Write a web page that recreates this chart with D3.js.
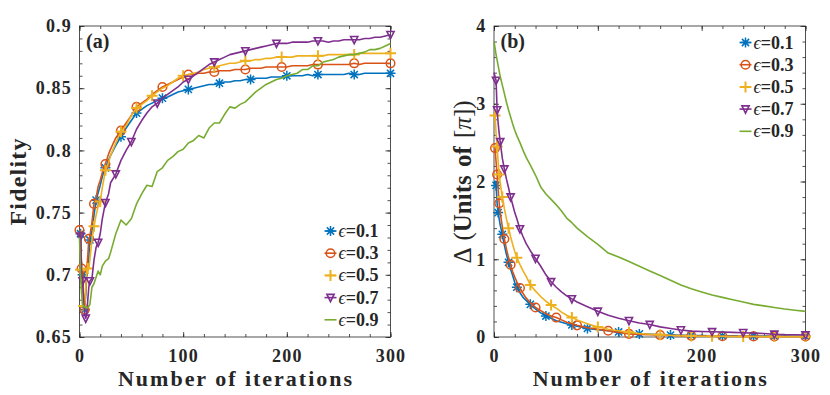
<!DOCTYPE html>
<meta charset="utf-8">
<style>
body { margin: 0; background: #fff; }
svg text { font-family: "Liberation Serif", "Times New Roman", serif; font-weight: bold; fill: #262626; }
</style>
<body></body>
<script src="https://d3js.org/d3.v7.min.js"></script>
<script>
// legend / series meta
const epsilons = ['0.1', '0.3', '0.5', '0.7', '0.9']
const colors = ['#0072BD', '#D95319', '#EDB120', '#7E2F8E', '#77AC30']
const markerTypes = ['star', 'circle', 'plus', 'tri', 'none']

// (a) fidelity vs iteration
const fidIters = [0,1,2,3,4,5,6,7,8,9,10, 12,14,16,18,20,22,25,28,30,
    35,40,45,50,55,60,65,70,75,80,85,90,95,100,
    105,110,115,120,125,130,135,140,145,150,155,160,165,170,
    175,180,185,190,195,200,205,210,215,220,225,230,235,240,
    245,250,255,260,265,270,275,280,285,290,295,300]
const fid01 = [0.735,0.733,0.703,0.700,0.675,0.672,0.685,0.700,0.705,0.715,0.728,
    0.735,0.748,0.760,0.766,0.772,0.779,0.786,0.792,0.796,
    0.804,0.811,0.818,0.824,0.830,0.833,0.836,0.838,0.840,0.842,0.843,0.845,0.847,0.848,
    0.849,0.850,0.851,0.852,0.853,0.853,0.854,0.855,0.855,0.856,0.856,0.857,0.857,0.858,
    0.858,0.858,0.859,0.859,0.859,0.860,0.860,0.860,0.860,0.861,0.860,0.861,0.861,0.861,
    0.861,0.861,0.861,0.862,0.861,0.861,0.862,0.862,0.862,0.862,0.862,0.862]
const fid03 = [0.736,0.735,0.705,0.703,0.674,0.672,0.688,0.705,0.715,0.729,0.731,
    0.742,0.757,0.762,0.771,0.776,0.782,0.789,0.797,0.801,
    0.810,0.816,0.822,0.828,0.835,0.838,0.841,0.845,0.848,0.851,0.853,0.855,0.857,0.859,
    0.861,0.861,0.862,0.862,0.863,0.863,0.864,0.864,0.864,0.865,0.865,0.865,0.866,0.866,
    0.866,0.867,0.867,0.867,0.867,0.867,0.868,0.868,0.868,0.868,0.869,0.869,0.869,0.869,
    0.869,0.869,0.869,0.869,0.870,0.869,0.870,0.870,0.870,0.870,0.870,0.870]
const fid05 = [0.705,0.704,0.690,0.676,0.675,0.675,0.690,0.703,0.705,0.705,0.712,
    0.728,0.739,0.748,0.755,0.759,0.770,0.784,0.790,0.796,
    0.806,0.815,0.820,0.828,0.834,0.837,0.840,0.844,0.847,0.850,0.852,0.855,0.858,0.860,
    0.861,0.862,0.863,0.865,0.866,0.867,0.868,0.869,0.870,0.870,0.871,0.872,0.872,0.873,
    0.873,0.874,0.874,0.875,0.875,0.875,0.875,0.876,0.876,0.876,0.876,0.876,0.876,0.877,
    0.877,0.877,0.877,0.877,0.877,0.878,0.878,0.878,0.878,0.878,0.878,0.878]
const fid07 = [0.733,0.731,0.700,0.695,0.680,0.668,0.665,0.668,0.680,0.690,0.695,
    0.697,0.712,0.722,0.726,0.733,0.745,0.758,0.765,0.774,
    0.781,0.792,0.800,0.807,0.817,0.824,0.830,0.835,0.838,0.842,0.845,0.848,0.851,0.855,
    0.857,0.860,0.863,0.866,0.869,0.871,0.873,0.875,0.877,0.878,0.879,0.880,0.881,0.882,
    0.883,0.884,0.885,0.886,0.886,0.886,0.887,0.887,0.887,0.887,0.888,0.888,0.888,0.887,
    0.888,0.888,0.889,0.889,0.889,0.889,0.890,0.890,0.891,0.891,0.892,0.893]
const fid09 = [0.730,0.700,0.685,0.676,0.675,0.674,0.674,0.673,0.674,0.675,0.676,
    0.690,0.693,0.698,0.703,0.700,0.707,0.711,0.713,0.718,
    0.733,0.744,0.740,0.745,0.757,0.765,0.772,0.771,0.783,0.786,0.792,0.795,0.799,0.801,
    0.806,0.808,0.812,0.810,0.818,0.822,0.822,0.829,0.835,0.834,0.837,0.839,0.843,0.847,
    0.850,0.853,0.855,0.857,0.858,0.860,0.861,0.862,0.865,0.865,0.868,0.868,0.871,0.872,
    0.873,0.875,0.876,0.877,0.877,0.878,0.879,0.881,0.881,0.882,0.884,0.886]
// iterations where markers sit
const fidMarks01 = [1,3,5,10,16,25,40,55,80,105,135,165,200,230,265,300]
const fidMarks03 = [0,2,5,9,14,25,40,55,80,105,130,160,195,230,265,300]
const fidMarks05 = [1,4,8,14,20,25,40,55,70,100,130,160,195,230,265,300]
const fidMarks07 = [1,3,6,10,18,25,35,50,75,105,130,160,190,230,265,300]
const fidTicks = [0.65, 0.7, 0.75, 0.8, 0.85, 0.9]
const fidTickLabels = ['0.65', '0.7', '0.75', '0.8', '0.85', '0.9']

// (b) delta vs iteration
const deltaIters = [0,1,2,3,4,5,6, 8,10,12,14,16,18,20,22, 25,28,31,
    35,40,45,50,55,60,65,70,75,80,
    90,100,110,120,130,140,150,160,170,180,190,200,210,220,230,240,250,260,270,280,290,300]
const delta01 = [2.00,2.00,1.95,1.72,1.60,1.52,1.44,
    1.32,1.18,1.06,0.96,0.87,0.79,0.70,0.64, 0.57,0.51,0.47,
    0.42,0.36,0.31,0.27,0.24,0.21,0.19,0.17,0.155,0.14,
    0.11,0.095,0.08,0.065,0.05,0.04,0.035,0.03,0.025,0.022,0.02,0.018,0.016,0.015,0.014,0.013,0.012,0.012,0.011,0.011,0.01,0.01]
const delta03 = [2.45,2.43,2.25,2.09,1.90,1.72,1.60,
    1.42,1.26,1.13,1.02,0.93,0.84,0.77,0.71, 0.63,0.56,0.50,
    0.44,0.38,0.34,0.30,0.27,0.25,0.22,0.19,0.17,0.15,
    0.12,0.10,0.08,0.06,0.04,0.033,0.03,0.025,0.02,0.018,0.015,0.013,0.012,0.01,0.009,0.008,0.008,0.007,0.007,0.006,0.006,0.006]
const delta05 = [2.86,2.85,2.62,2.45,2.25,2.09,1.98,
    1.80,1.65,1.52,1.40,1.29,1.19,1.10,1.02, 0.93,0.85,0.78,
    0.67,0.59,0.52,0.46,0.41,0.37,0.32,0.28,0.25,0.22,
    0.17,0.13,0.10,0.08,0.06,0.045,0.035,0.03,0.022,0.018,0.012,0.01,0.009,0.008,0.007,0.006,0.006,0.005,0.005,0.005,0.005,0.005]
const delta07 = [3.40,3.35,3.30,2.92,2.75,2.62,2.51,
    2.30,2.16,2.03,1.92,1.80,1.70,1.60,1.52, 1.39,1.29,1.20,
    1.11,1.01,0.91,0.80,0.71,0.64,0.58,0.53,0.49,0.45,
    0.39,0.33,0.28,0.24,0.21,0.18,0.16,0.13,0.11,0.09,0.075,0.07,0.067,0.064,0.06,0.055,0.05,0.045,0.035,0.03,0.028,0.025]
const delta09 = [3.80,3.72,3.63,3.56,3.49,3.42,3.35,
    3.24,3.13,3.02,2.92,2.83,2.74,2.66,2.59, 2.50,2.40,2.31,
    2.21,2.08,1.93,1.84,1.77,1.70,1.62,1.53,1.47,1.40,
    1.29,1.19,1.08,1.03,0.97,0.91,0.85,0.79,0.73,0.67,0.62,0.58,0.54,0.51,0.48,0.45,0.42,0.40,0.38,0.36,0.345,0.33]
const deltaMarks01 = [2,4,8,14,22,35,50,75,90,120,140,170,190,220,250,270,300]
const deltaMarks03 = [1,3,5,10,16,25,40,60,80,110,130,160,190,220,250,270,300]
const deltaMarks05 = [1,3,5,8,14,22,35,55,75,100,130,160,190,210,240,270,300]
const deltaMarks07 = [2,3,6,10,16,25,40,55,75,100,130,150,180,210,240,270,300]
const deltaTicks = [0, 1, 2, 3, 4]

const iterTicks = [0, 100, 200, 300]

const svg = d3.select('body').append('svg')
    .attr('width', 830)
    .attr('height', 395)

drawPanel({
    x0: 79.5, x1: 390.5, y0: 26, y1: 337,
    yDomain: [0.65, 0.9], yTicks: fidTicks, yFormat: (d, i) => fidTickLabels[i],
    yMinor: d3.range(0.65, 0.9001, 0.01),
    iters: fidIters,
    series: [fid01, fid03, fid05, fid07, fid09],
    marks: [fidMarks01, fidMarks03, fidMarks05, fidMarks07, []],
    tag: '(a)',
    legendTop: 231
})

drawPanel({
    x0: 494, x1: 805.5, y0: 26, y1: 337,
    yDomain: [0, 4], yTicks: deltaTicks, yFormat: d => d,
    yMinor: d3.range(0, 4.001, 0.2),
    iters: deltaIters,
    series: [delta01, delta03, delta05, delta07, delta09],
    marks: [deltaMarks01, deltaMarks03, deltaMarks05, deltaMarks07, []],
    tag: '(b)',
    legendTop: 42.5
})

// y labels
svg.append('text')
    .attr('transform', 'translate(26,182) rotate(-90)')
    .attr('text-anchor', 'middle')
    .style('font-size', '24px')
    .attr('textLength', 87)
    .text('Fidelity')

const dl = svg.append('text')
    .attr('transform', 'translate(471,182) rotate(-90)')
    .attr('text-anchor', 'middle')
    .style('font-size', '25px')
    .style('word-spacing', '2px')
dl.append('tspan').style('font-weight', 'normal').text('\u0394 (')
dl.append('tspan').text('Units of')
dl.append('tspan').style('font-weight', 'normal').text(' [')
dl.append('tspan').style('font-weight', 'normal').style('font-style', 'italic').text('\u03c0')
dl.append('tspan').style('font-weight', 'normal').text('])')

function drawPanel (p) {
    const x = d3.scaleLinear().domain([0, 300]).range([p.x0, p.x1])
    const y = d3.scaleLinear().domain(p.yDomain).range([p.y1, p.y0])
    const g = svg.append('g')

    drawAxes(g, x, y, p)

    const line = d3.line()
        .x(d => x(d[0]))
        .y(d => y(d[1]))

    p.series.forEach((vals, k) => {
        const pts = p.iters.map((it, i) => [it, vals[i]])
        g.append('path')
            .datum(pts)
            .attr('d', line)
            .attr('fill', 'none')
            .attr('stroke', colors[k])
            .attr('stroke-width', 1.6)
            .attr('stroke-linejoin', 'round')

        p.marks[k].forEach(it => {
            const v = vals[p.iters.indexOf(it)]
            drawMarker(g, markerTypes[k], x(it), y(v), colors[k])
        })
    })

    // panel tag
    g.append('text')
        .attr('x', p.x0 + 6.5)
        .attr('y', p.y0 + 22)
        .style('font-size', '20px')
        .text(p.tag)

    // x label
    g.append('text')
        .attr('x', (p.x0 + p.x1) / 2)
        .attr('y', 386)
        .attr('text-anchor', 'middle')
        .style('font-size', '22px')
        .attr('textLength', 234)
        .text('Number of iterations')

    // legend
    const lg = g.append('g')
    epsilons.forEach((e, k) => {
        const cy = p.legendTop + k * 22.2
        const mx = p.x1 - 60
        lg.append('line')
            .attr('x1', mx - 6).attr('x2', mx + 6)
            .attr('y1', cy).attr('y2', cy)
            .attr('stroke', colors[k])
            .attr('stroke-width', 1.6)
        drawMarker(lg, markerTypes[k], mx, cy, colors[k])
        const t = lg.append('text')
            .attr('x', mx + 8)
            .attr('y', cy + 6)
            .style('font-size', '18px')
        t.append('tspan').style('font-weight', 'normal').style('font-style', 'italic').text('\u03f5')
        t.append('tspan').text('=' + e)
    })
}

function drawAxes (g, x, y, p) {
    const c = '#262626'
    const add = (axis, tr) => {
        const a = g.append('g').attr('transform', tr).style('color', c).call(axis)
        a.select('.domain').remove()
        a.selectAll('line').attr('stroke-width', 0.8)
        return a
    }
    add(d3.axisBottom(x).tickValues(iterTicks).tickSizeInner(-5).tickSizeOuter(0).tickPadding(12).tickFormat(d => d),
        `translate(0,${p.y1})`).selectAll('text').style('font-size', '18px').style('letter-spacing', '1.2px')
    add(d3.axisBottom(x).tickValues(d3.range(0, 301, 20)).tickSize(-3).tickFormat(''), `translate(0,${p.y1})`)
    add(d3.axisTop(x).tickValues(iterTicks).tickSize(-5).tickFormat(''), `translate(0,${p.y0})`)
    add(d3.axisTop(x).tickValues(d3.range(0, 301, 20)).tickSize(-3).tickFormat(''), `translate(0,${p.y0})`)

    add(d3.axisLeft(y).tickValues(p.yTicks).tickSizeInner(-5).tickSizeOuter(0).tickPadding(7.5).tickFormat(p.yFormat),
        `translate(${p.x0},0)`).selectAll('text').style('font-size', '18px').style('letter-spacing', '1.2px')
    add(d3.axisLeft(y).tickValues(p.yMinor).tickSize(-3).tickFormat(''), `translate(${p.x0},0)`)
    add(d3.axisRight(y).tickValues(p.yTicks).tickSize(-5).tickFormat(''), `translate(${p.x1},0)`)
    add(d3.axisRight(y).tickValues(p.yMinor).tickSize(-3).tickFormat(''), `translate(${p.x1},0)`)

    g.append('rect')
        .attr('x', p.x0).attr('y', p.y0)
        .attr('width', p.x1 - p.x0).attr('height', p.y1 - p.y0)
        .attr('fill', 'none')
        .attr('stroke', c)
        .attr('stroke-width', 0.8)
}

function drawMarker (g, type, cx, cy, color) {
    if (type === 'none') return
    const m = g.append('g').attr('transform', `translate(${cx},${cy})`)
        .attr('fill', 'none').attr('stroke', color).attr('stroke-width', 1.5)
    if (type === 'star') {
        m.append('path').attr('d', 'M-5,0H5M0,-5V5M-3.6,-3.6L3.6,3.6M-3.6,3.6L3.6,-3.6')
    } else if (type === 'circle') {
        m.append('circle').attr('r', 4.3)
    } else if (type === 'plus') {
        m.append('path').attr('d', 'M-5.5,0H5.5M0,-5.5V5.5').attr('stroke-width', 2)
    } else if (type === 'tri') {
        m.append('path').attr('d', 'M-3.6,-3.2L3.6,-3.2L0,4Z').attr('stroke-width', 1.6)
    }
}
</script>
